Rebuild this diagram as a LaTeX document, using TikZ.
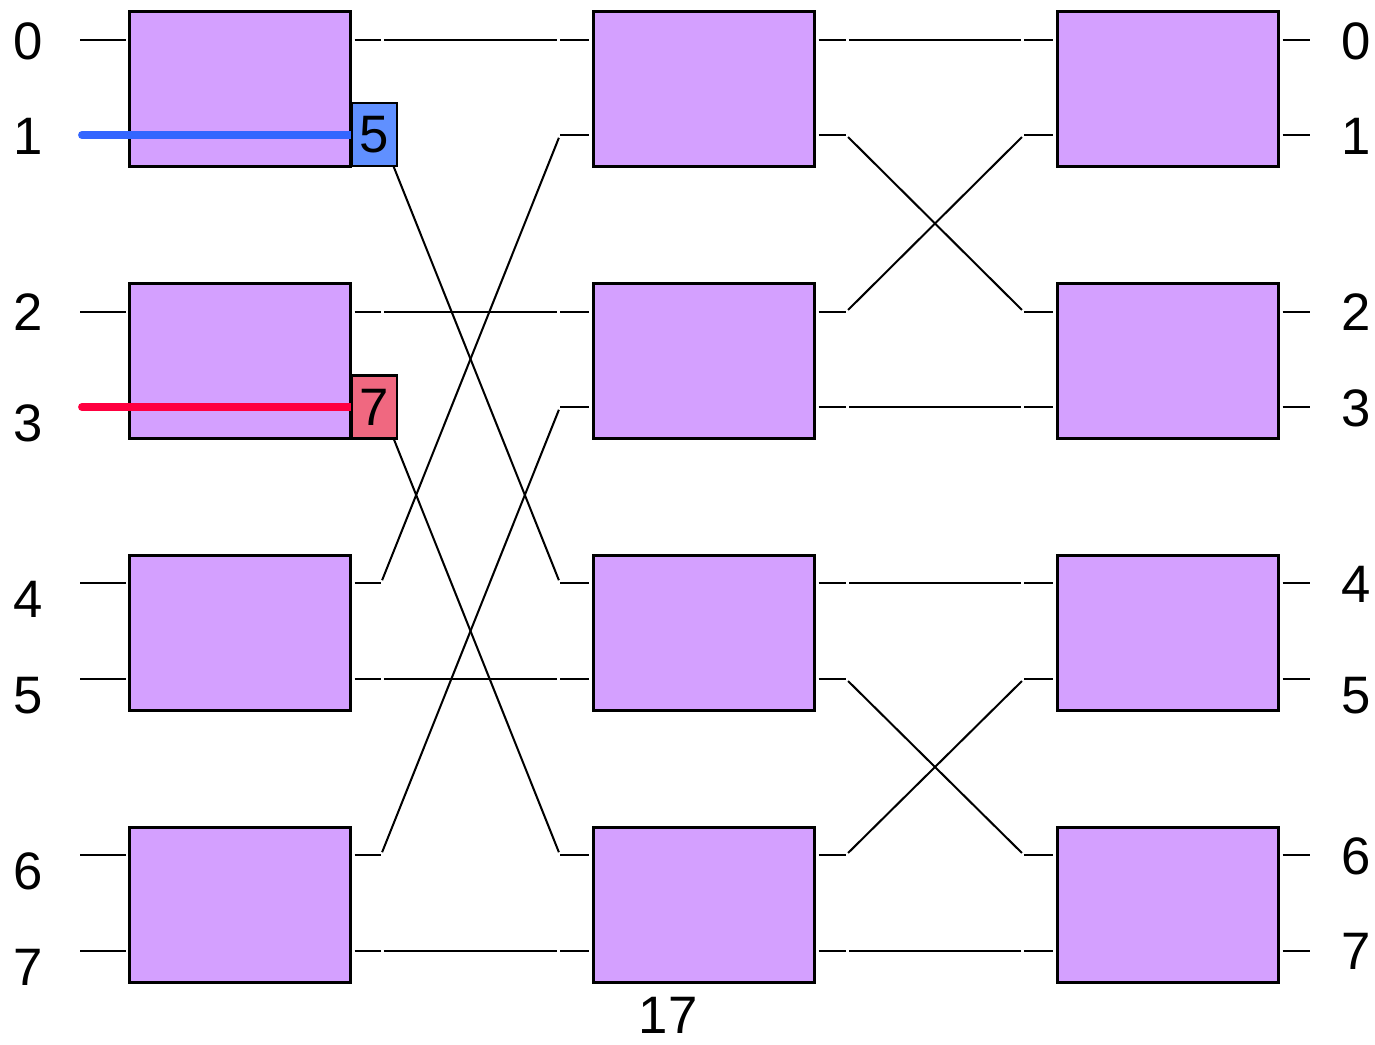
\documentclass[tikz,border=0pt]{standalone}
\usepackage{fontspec}
\setmainfont{Liberation Sans}
\definecolor{boxfill}{RGB}{212,160,255}
\definecolor{bluefill}{RGB}{96,144,255}
\definecolor{pinkfill}{RGB}{240,104,128}
\definecolor{blueline}{RGB}{51,102,255}
\definecolor{redline}{RGB}{255,0,64}
\begin{document}
\begin{tikzpicture}[x=0.02cm,y=-0.02cm,
  swbox/.style={draw, fill=boxfill, line width=1.5pt, minimum width=4.42cm, minimum height=3.1cm, inner sep=0pt, anchor=north west},
  wire/.style={line width=1.15pt},
  gapwire/.style={wire, shorten <=1.7pt, shorten >=1.7pt},
  lbl/.style={font=\fontsize{30}{36}\selectfont, inner sep=0pt},
  tag/.style={draw, line width=1.5pt, minimum width=0.9cm, minimum height=1.26cm, inner sep=0pt, font=\fontsize{30}{36}\selectfont},
  route/.style={line width=4.5pt, line cap=round}]
\useasboundingbox (0,0) rectangle (1375,1044);
% boxes
\foreach \r/\t in {0/10,1/282,2/554,3/826}{
  \node[swbox] (A\r) at (128,\t) {};
  \node[swbox] (B\r) at (592,\t) {};
  \node[swbox] (C\r) at (1056,\t) {};
}
% port coordinates and stubs
\foreach \p/\y in {0/40,1/135,2/312,3/407,4/583,5/679,6/855,7/951}{
  \pgfmathtruncatemacro{\r}{int(\p/2)}
  \coordinate (ai\p) at (80,\y);
  \coordinate (ao\p) at (381,\y);
  \coordinate (bi\p) at (560,\y);
  \coordinate (bo\p) at (846,\y);
  \coordinate (ci\p) at (1024,\y);
  \coordinate (co\p) at (1310,\y);
  \draw[wire, shorten >=1.2pt] (ai\p) -- (ai\p -| A\r.west);
  \draw[wire, shorten <=1.7pt] (A\r.east |- ao\p) -- (ao\p);
  \draw[wire, shorten >=1.7pt] (bi\p) -- (bi\p -| B\r.west);
  \draw[wire, shorten <=1.7pt] (B\r.east |- bo\p) -- (bo\p);
  \draw[wire, shorten >=1.7pt] (ci\p) -- (ci\p -| C\r.west);
  \draw[wire, shorten <=1.7pt] (C\r.east |- co\p) -- (co\p);
}
% stage 1 connections
\foreach \s/\d in {0/0,1/4,2/2,3/6,4/1,5/5,6/3,7/7}{
  \draw[gapwire] (ao\s) -- (bi\d);
}
% stage 2 connections
\foreach \s/\d in {0/0,1/2,2/1,3/3,4/4,5/6,6/5,7/7}{
  \draw[gapwire] (bo\s) -- (ci\d);
}
% highlighted routes
\coordinate (s1) at (82,135);
\coordinate (s3) at (82,407);
\draw[route, blueline] (s1) -- (s1 -| A0.east);
\draw[route, redline] (s3) -- (s3 -| A1.east);
\node[tag, fill=bluefill] (t5) at (374.5,134.5) {5};
\node[tag, fill=pinkfill] (t7) at (374.5,407) {7};
% port labels
\foreach \p/\y in {0/41,1/136,2/312,3/423,4/599,5/696,6/871,7/967}{
  \node[lbl] (L\p) at (28,\y) {\p};
}
\foreach \p/\y in {0/41,1/136,2/312,3/408,4/584,5/696,6/856,7/951}{
  \node[lbl] (R\p) at (1356,\y) {\p};
}
\node[lbl] (total) at (668,1015) {17};
\end{tikzpicture}
\end{document}
